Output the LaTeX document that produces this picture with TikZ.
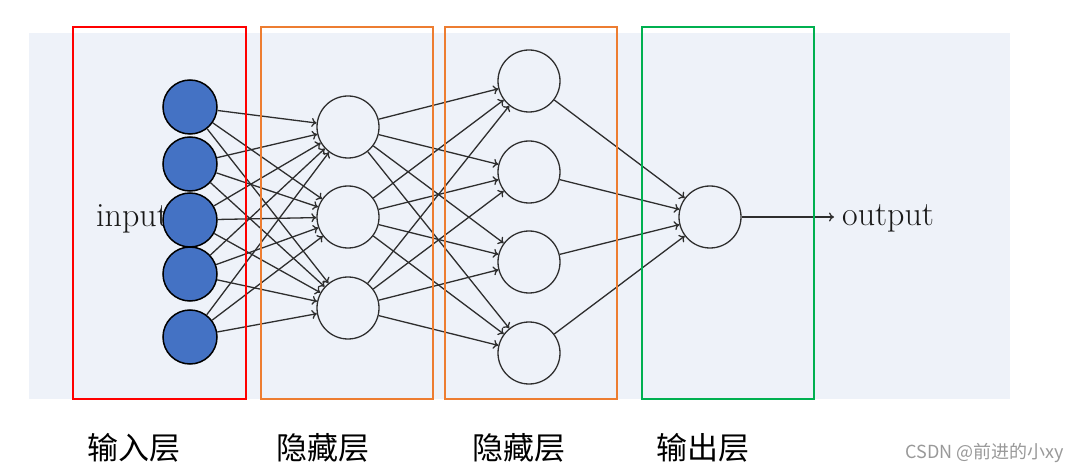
\documentclass[tikz,border=0pt]{standalone}
\usepackage{fontspec}
\newfontfamily\cjk{Noto Sans CJK SC}
\usetikzlibrary{arrows.meta}
\definecolor{bgpanel}{HTML}{EEF2F9}
\definecolor{inblue}{HTML}{4472C4}
\definecolor{edgegray}{HTML}{2E2E2E}
\definecolor{boxred}{HTML}{FF0000}
\definecolor{boxorange}{HTML}{ED7D31}
\definecolor{boxgreen}{HTML}{00B050}
\begin{document}
\begin{tikzpicture}[x=1pt,y=-1pt,
  innode/.style={circle,draw=black,line width=1.5pt,fill=inblue,inner sep=0pt,minimum size=54pt},
  neuron/.style={circle,draw=edgegray,line width=1.3pt,inner sep=0pt,minimum size=62pt},
  conn/.style={draw=edgegray,line width=1.3pt,-{To[length=5pt,width=9pt]}},
  layerbox/.style={line width=1.6pt},
  lbl/.style={font=\cjk\fontsize{31}{31}\selectfont,inner sep=0pt},
  latin/.style={font=\fontsize{34}{34}\selectfont,inner sep=0pt,text=black!90}]
\useasboundingbox (0,0) rectangle (1085,473);
\fill[white] (0,0) rectangle (1085,473);
\fill[bgpanel] (29,33) rectangle (1010,399);
% input text (behind circles)
\node[latin,anchor=east] (intext) at (169,219) {input};
% nodes
\node[innode] (i1) at (190,107) {};
\node[innode] (i2) at (190,164) {};
\node[innode] (i3) at (190,220) {};
\node[innode] (i4) at (190,274) {};
\node[innode] (i5) at (190,337) {};
\node[neuron] (h1) at (348,127) {};
\node[neuron] (h2) at (348,217) {};
\node[neuron] (h3) at (348,308) {};
\node[neuron] (g1) at (529,81) {};
\node[neuron] (g2) at (529,172) {};
\node[neuron] (g3) at (529,262) {};
\node[neuron] (g4) at (529,353) {};
\node[neuron] (o) at (710,217) {};
\coordinate (oend) at (834,217);
\node[latin,anchor=west] (outtext) at (842,218) {output};
% edges
\foreach \a in {i1,i2,i3,i4,i5}
  \foreach \b in {h1,h2,h3}
    \draw[conn] (\a) -- (\b);
\foreach \a in {h1,h2,h3}
  \foreach \b in {g1,g2,g3,g4}
    \draw[conn] (\a) -- (\b);
\foreach \a in {g1,g2,g3,g4}
  \draw[conn] (\a) -- (o);
\draw[conn] (o) -- (oend);
% layer boxes
\draw[layerbox,draw=boxred] (73,27) rectangle (246,399);
\draw[layerbox,draw=boxorange] (261,27) rectangle (433,399);
\draw[layerbox,draw=boxorange] (445,27) rectangle (617,399);
\draw[layerbox,draw=boxgreen] (642,27) rectangle (814,399);
% labels
\node[lbl] (l1) at (134,448) {输入层};
\node[lbl] (l2) at (323,448) {隐藏层};
\node[lbl] (l3) at (519,448) {隐藏层};
\node[lbl] (l4) at (703,448) {输出层};
\node[font=\cjk\fontsize{18}{18}\selectfont,text=black!40,inner sep=0pt] (wm) at (985,453) {CSDN @前进的小xy};
\end{tikzpicture}
\end{document}
